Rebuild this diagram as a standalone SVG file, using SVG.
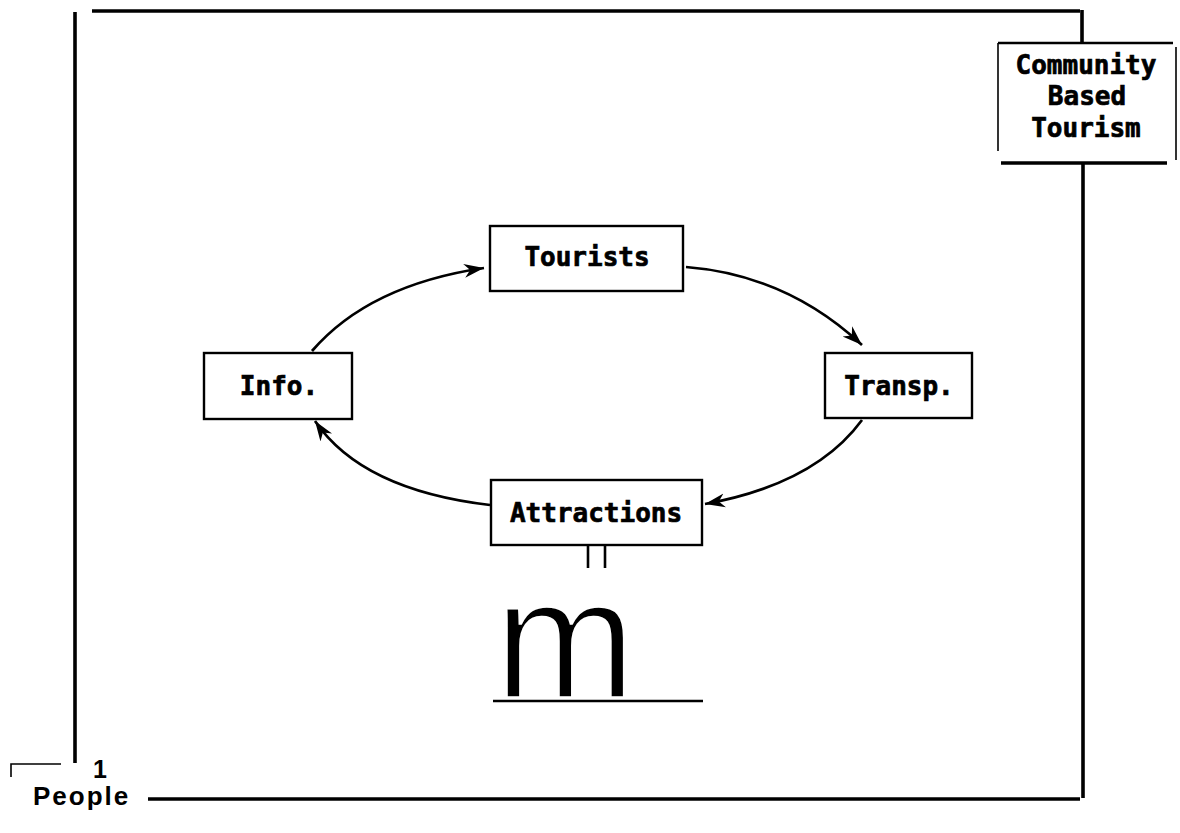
<svg xmlns="http://www.w3.org/2000/svg" width="1180" height="833" viewBox="0 0 1180 833">
  <defs>
    <style>
      .frame { stroke: #000; stroke-width: 3.6; fill: none; stroke-linecap: butt; }
      .thin { stroke: #000; stroke-width: 1.6; fill: none; }
      .box { fill: #fff; stroke: #000; stroke-width: 2.4; }
      .label { font-family: "DejaVu Sans Mono", "Liberation Mono", monospace; font-weight: bold; font-size: 26px; fill: #000; stroke: #000; stroke-width: 0.7; text-anchor: middle; }
      .conn { fill: none; stroke: #000; stroke-width: 2.7; marker-end: url(#head); }
      .sans { font-family: "Liberation Sans", Arial, sans-serif; fill: #000; }
    </style>
    <marker id="head" markerUnits="userSpaceOnUse" markerWidth="22" markerHeight="16" refX="20" refY="8" orient="auto">
      <path d="M0,1 L20,8 L0,15 L6,8 Z" fill="#000"/>
    </marker>
  </defs>

  <rect width="1180" height="833" fill="#fff"/>

  <!-- outer frame -->
  <g id="frame">
    <line class="frame" x1="92" y1="11" x2="1080" y2="11"/>
    <line class="frame" x1="75" y1="12" x2="75" y2="763"/>
    <line class="frame" x1="1082" y1="10" x2="1082" y2="43"/>
    <line class="frame" x1="1083" y1="163" x2="1083" y2="798"/>
    <line class="frame" x1="148" y1="799" x2="1080" y2="799"/>
  </g>

  <!-- title block -->
  <g id="community-based-tourism">
    <line class="frame" x1="998" y1="43" x2="1173" y2="43" style="stroke-width:2.6"/>
    <line class="thin" x1="998" y1="43" x2="998" y2="151"/>
    <line class="thin" x1="1176" y1="47" x2="1176" y2="160"/>
    <line class="frame" x1="1001" y1="163" x2="1167" y2="163"/>
    <text class="label" x="1086" y="74">Community</text>
    <text class="label" x="1087" y="105">Based</text>
    <text class="label" x="1086" y="137">Tourism</text>
  </g>

  <!-- connectors -->
  <g id="connectors">
    <path class="conn" d="M312,351 Q369,285 484,268"/>
    <path class="conn" d="M686,267 Q787,275 862,345"/>
    <path class="conn" d="M862,420 Q815,484 705,504"/>
    <path class="conn" d="M490,505 Q362,490 315,421"/>
  </g>

  <g id="tourists">
    <rect class="box" x="490" y="226" width="193" height="65"/>
    <text class="label" x="587" y="266">Tourists</text>
  </g>

  <g id="info">
    <rect class="box" x="204" y="353" width="148" height="66"/>
    <text class="label" x="279" y="395">Info.</text>
  </g>

  <g id="transp">
    <rect class="box" x="825" y="353" width="147" height="65"/>
    <text class="label" x="899" y="395">Transp.</text>
  </g>

  <g id="attractions">
    <rect class="box" x="491" y="480" width="211" height="65"/>
    <text class="label" x="596" y="522">Attractions</text>
    <line class="frame" x1="588" y1="546" x2="588" y2="568" style="stroke-width:2.6"/>
    <line class="frame" x1="605" y1="546" x2="605" y2="568" style="stroke-width:2.6"/>
  </g>

  <!-- large light m with rule beneath -->
  <g id="m-mark">
    <text class="sans" x="565" y="698" font-size="170" text-anchor="middle" stroke="#fff" stroke-width="3.5">m</text>
    <line class="frame" x1="493" y1="701" x2="703" y2="701" style="stroke-width:2.6"/>
  </g>

  <!-- people corner -->
  <g id="people">
    <path class="thin" d="M11,777 L11,764 L61,764"/>
    <text class="sans" x="93" y="778" font-size="25" font-weight="bold">1</text>
    <text class="sans" x="33" y="805" font-size="26" font-weight="bold" letter-spacing="2">People</text>
  </g>
</svg>
